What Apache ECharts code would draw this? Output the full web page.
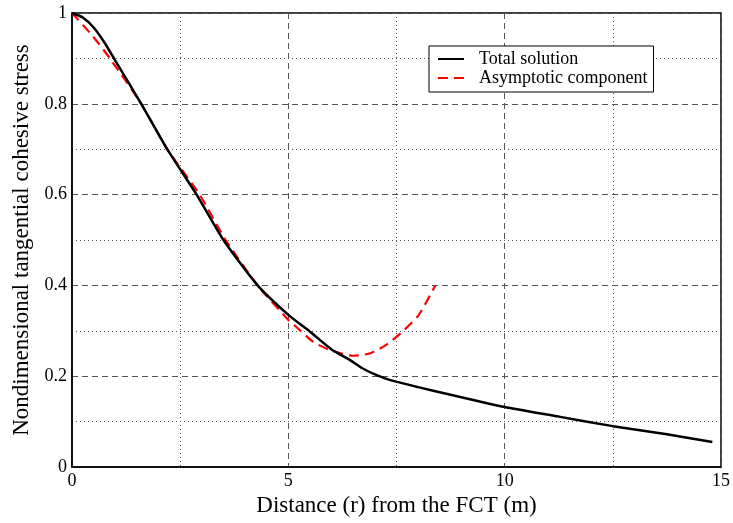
<!DOCTYPE html>
<html>
<head>
<meta charset="utf-8">
<script src="https://cdn.jsdelivr.net/npm/echarts@6/dist/echarts.min.js"></script>
<style>
  html, body { margin: 0; padding: 0; background: #fff; }
  #chart { width: 733px; height: 523px; }
</style>
</head>
<body>
<div id="chart"></div>
<script>
		// values
		var totalX = [0, 0.25, 0.5, 0.75, 1.0, 1.6, 2.2, 2.88, 3.5, 4.29, 5, 5.5, 6, 6.4, 6.7, 7.03, 7.34, 8, 8.75, 10, 11.25, 12.5, 13.75, 14.8];
		var totalY = [1, 0.99, 0.968, 0.935, 0.895, 0.8, 0.7, 0.6, 0.5, 0.4, 0.335, 0.298, 0.259, 0.237, 0.218, 0.203, 0.192, 0.176, 0.159, 0.132, 0.111, 0.09, 0.072, 0.055];
		var asymX = [0, 0.49, 0.877, 1.6, 2.2, 2.95, 3.55, 4.29, 5, 5.18, 5.57, 5.95, 6.49, 6.88, 7.26, 7.6, 8, 8.4];
		var asymY = [1, 0.948, 0.9, 0.8, 0.7, 0.6, 0.5, 0.4, 0.324, 0.309, 0.276, 0.258, 0.245, 0.25, 0.269, 0.295, 0.333, 0.4];

		var fontName = 'Liberation Serif';

		function pairs(xs, ys) {
			var out = [];
			for (var i = 0; i < xs.length; i++) {
				out.push([xs[i], ys[i]]);
			}
			return out;
		}

		var myChart = echarts.init(document.getElementById('chart'));

		var option = {
			backgroundColor : '#fff',
			animation : false,
			textStyle : { fontFamily : fontName },
			grid : {
				left : 72,
				right : 11,
				top : 13,
				bottom : 56,
				show : true,
				borderColor : '#000',
				borderWidth : 1.5
			},
			legend : {
				left : 429,
				top : 46,
				orient : 'vertical',
				backgroundColor : '#fff',
				borderColor : '#000',
				borderWidth : 1,
				borderRadius : 0,
				padding : [4, 6, 5, 8],
				itemGap : 1,
				itemWidth : 26,
				itemHeight : 18,
				itemStyle : { opacity : 0 }, // no circle in the legend icon
				textStyle : { fontFamily : fontName, fontSize : 18, color : '#000', padding : [0, 0, 0, 10] },
				data : [ 'Total solution', 'Asymptotic component' ]
			},
			xAxis : {
				type : 'value',
				min : 0,
				max : 15,
				interval : 5,
				name : 'Distance (r) from the FCT (m)',
				nameLocation : 'middle',
				nameGap : 25,
				nameTextStyle : { fontFamily : fontName, fontSize : 23, color : '#000' },
				axisLine : { show : true, lineStyle : { color : '#000', width : 1.5 } },
				axisTick : { show : false },
				axisLabel : { fontFamily : fontName, fontSize : 18, color : '#000', margin : 5 },
				splitLine : { show : true, lineStyle : { color : '#555', type : [6, 4], width : 1 } },
				minorTick : { show : false, splitNumber : 2 },
				minorSplitLine : { show : true, lineStyle : { color : '#555', type : [1, 3], width : 1 } }
			},
			yAxis : {
				type : 'value',
				min : 0,
				max : 1,
				interval : 0.2,
				name : 'Nondimensional tangential cohesive stress',
				nameLocation : 'middle',
				nameGap : 35,
				nameTextStyle : { fontFamily : fontName, fontSize : 23, color : '#000' },
				axisLine : { show : true, lineStyle : { color : '#000', width : 1.5 } },
				axisTick : { show : false },
				axisLabel : { fontFamily : fontName, fontSize : 18, color : '#000', margin : 5 },
				splitLine : { show : true, lineStyle : { color : '#555', type : [6, 4], width : 1 } },
				minorTick : { show : false, splitNumber : 2 },
				minorSplitLine : { show : true, lineStyle : { color : '#555', type : [1, 3], width : 1 } }
			},
			series : [ {
				name : 'Total solution',
				type : 'line',
				smooth : 0.2,
				symbol : 'none',
				data : pairs(totalX, totalY),
				itemStyle : { color : '#000' },
				lineStyle : { color : '#000', width : 2.5 },
				z : 3
			}, {
				name : 'Asymptotic component',
				type : 'line',
				smooth : 0.2,
				symbol : 'none',
				data : pairs(asymX, asymY),
				itemStyle : { color : '#f00' },
				lineStyle : { color : '#f00', width : 2.2, type : [10, 6] },
				z : 2
			} ]
		};

		myChart.setOption(option);
</script>
</body>
</html>
